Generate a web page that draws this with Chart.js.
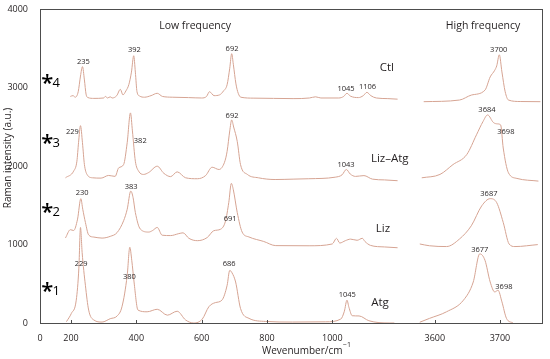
<!DOCTYPE html>
<html lang="en">
<head>
<meta charset="UTF-8">
<title>Raman spectra</title>
<script src="https://cdn.jsdelivr.net/npm/chart.js"></script>
<style>
  html, body { margin: 0; padding: 0; background: #fff; }
</style>
</head>
<body>
<canvas id="raman" width="550" height="359"></canvas>
<script>
// Spectra: wavenumber (cm-1) and intensity (a.u., already offset)
const ctlLowX = [198, 206, 213, 222, 229, 235, 241, 246, 252, 270, 300, 305, 312, 320, 326, 340, 351, 359, 368, 377, 385, 392, 397, 402, 410, 425, 445, 464, 480, 510, 560, 600, 615, 624, 638, 655, 667, 678, 686, 692, 697, 705, 712, 720, 760, 820, 880, 930, 949, 965, 1020, 1035, 1045, 1055, 1080, 1095, 1106, 1118, 1135, 1170, 1200];
const ctlLowY = [2890, 2900, 2880, 2950, 3150, 3270, 3100, 2920, 2875, 2865, 2870, 2890, 2870, 2885, 2870, 2900, 2980, 2910, 2960, 3040, 3200, 3409, 3200, 2950, 2895, 2880, 2900, 2930, 2890, 2880, 2875, 2870, 2890, 2950, 2900, 2910, 2960, 3040, 3250, 3435, 3300, 3050, 2930, 2880, 2868, 2865, 2862, 2870, 2885, 2870, 2870, 2890, 2930, 2895, 2875, 2900, 2942, 2900, 2870, 2862, 2855];

const lizAtgLowX = [183, 208, 218, 223, 229, 235, 241, 249, 266, 292, 315, 335, 346, 361, 372, 382, 388, 397, 407, 422, 438, 464, 484, 505, 525, 551, 587, 612, 632, 653, 670, 678, 686, 692, 698, 709, 719, 740, 774, 825, 880, 928, 1009, 1030, 1043, 1055, 1071, 1097, 1123, 1160, 1200];
const lizAtgLowY = [1852, 1937, 2063, 2300, 2517, 2300, 2021, 1895, 1852, 1848, 1882, 1870, 1979, 2021, 2300, 2680, 2450, 2063, 1937, 1895, 1920, 2000, 1910, 1867, 1928, 1852, 1840, 1880, 1987, 1958, 2050, 2190, 2450, 2590, 2500, 2316, 2021, 1895, 1852, 1830, 1835, 1840, 1860, 1890, 1958, 1900, 1870, 1880, 1835, 1825, 1815];

const lizLowX = [183, 198, 208, 220, 230, 236, 244, 254, 270, 295, 320, 341, 361, 372, 383, 390, 397, 412, 438, 450, 464, 479, 505, 530, 543, 561, 587, 617, 637, 658, 673, 683, 691, 697, 709, 724, 745, 790, 827, 929, 1000, 1013, 1023, 1040, 1056, 1076, 1092, 1100, 1117, 1160, 1200];
const lizLowY = [1085, 1190, 1180, 1325, 1586, 1450, 1283, 1123, 1096, 1083, 1105, 1153, 1304, 1450, 1683, 1600, 1409, 1199, 1160, 1180, 1219, 1120, 1115, 1140, 1150, 1080, 1050, 1090, 1177, 1196, 1300, 1535, 1781, 1700, 1409, 1160, 1097, 1040, 987, 985, 1008, 1080, 1020, 1050, 1070, 1055, 1080, 1040, 990, 970, 960];

const atgLowX = [186, 201, 216, 224, 229, 234, 244, 254, 270, 295, 320, 341, 356, 372, 380, 386, 393, 405, 433, 464, 495, 525, 551, 576, 602, 622, 642, 662, 678, 686, 693, 704, 719, 745, 796, 878, 980, 1026, 1037, 1045, 1051, 1061, 1082, 1112, 1174, 1190];
const atgLowY = [17, 122, 291, 700, 1219, 900, 481, 165, 38, 12, 55, 89, 207, 608, 966, 800, 523, 165, 143, 175, 100, 150, 38, 0, 50, 207, 260, 291, 481, 671, 640, 523, 186, 59, 20, 12, 15, 50, 150, 291, 200, 93, 90, 29, 0, 0];

const ctlHighX = [3583, 3638, 3656, 3677, 3685, 3692, 3695, 3699, 3703, 3708, 3713, 3731, 3762];
const ctlHighY = [2823, 2844, 2907, 2970, 3139, 3224, 3280, 3421, 3202, 2949, 2844, 2825, 2823];

const lizAtgHighX = [3580, 3608, 3628, 3649, 3664, 3674, 3681, 3690, 3696, 3701, 3705, 3713, 3726, 3759];
const lizAtgHighY = [1852, 1895, 2021, 2148, 2401, 2570, 2654, 2557, 2540, 2527, 2232, 1916, 1844, 1810];

const lizHighX = [3577, 3592, 3618, 3638, 3656, 3672, 3685, 3695, 3705, 3714, 3723, 3758];
const lizHighY = [1008, 985, 975, 1072, 1240, 1494, 1586, 1535, 1283, 1008, 975, 1000];

const atgHighX = [3577, 3592, 3618, 3644, 3659, 3669, 3677, 3685, 3692, 3697, 3703, 3710, 3720];
const atgHighY = [10, 59, 143, 291, 523, 882, 800, 523, 396, 418, 270, 59, 0];

// axis ticks
const lowTicks = [200, 400, 600, 800, 1000];
const highTicks = [3600, 3700];
const yTicks = [0, 1000, 2000, 3000, 4000];

// peak labels: text, axis, wavenumber, intensity
const peakLabels = [
  ['235', 'xLow', 238, 3333], ['392', 'xLow', 394, 3485], ['692', 'xLow', 693, 3498],
  ['1045', 'xLow', 1042, 2991], ['1106', 'xLow', 1108, 3008], ['3700', 'xHigh', 3698, 3489],
  ['229', 'xLow', 204, 2433], ['382', 'xLow', 412, 2319], ['692', 'xLow', 693, 2636],
  ['1043', 'xLow', 1042, 2015], ['3684', 'xHigh', 3680, 2716], ['3698', 'xHigh', 3709, 2433],
  ['230', 'xLow', 234, 1660], ['383', 'xLow', 384, 1736], ['691', 'xLow', 687, 1322],
  ['3687', 'xHigh', 3683, 1648],
  ['229', 'xLow', 231, 748], ['380', 'xLow', 379, 587], ['686', 'xLow', 684, 748],
  ['1045', 'xLow', 1046, 355], ['3677', 'xHigh', 3669, 934], ['3698', 'xHigh', 3706, 460]
];
const sampleNames = [['Ctl', 1167, 3257], ['Liz\u2013Atg', 1176, 2095], ['Liz', 1155, 1208], ['Atg', 1146, 253]];
const sampleMarks = [['4', 3115], ['3', 2351], ['2', 1464], ['1', 460]];
const panelTitles = [['Low frequency', 'xLow', 580], ['High frequency', 'xHigh', 3674]];

const lineColor = '#d6a493';
const textColor = '#231f20';
const font = '"Open Sans", sans-serif';

function series(xs, ys, axis) {
  return {
    data: xs.map((x, i) => ({x: x, y: ys[i]})),
    xAxisID: axis,
    yAxisID: 'y',
    borderColor: lineColor,
    borderWidth: 1,
    pointRadius: 0,
    cubicInterpolationMode: 'monotone'
  };
}

const annotate = {
  id: 'annotate',
  afterDraw(chart) {
    const {ctx, chartArea: a, scales} = chart;
    const y = scales.y;
    ctx.save();
    // frame
    ctx.strokeStyle = '#4d4d4d';
    ctx.lineWidth = 1;
    ctx.strokeRect(Math.round(a.left) + 0.5, Math.round(a.top) + 0.5,
      Math.round(a.right - a.left) - 1, Math.round(a.bottom - a.top));
    // inward tick marks on the bottom axis
    ctx.beginPath();
    lowTicks.forEach(v => {
      const px = Math.round(scales.xLow.getPixelForValue(v)) + 0.5;
      ctx.moveTo(px, a.bottom); ctx.lineTo(px, a.bottom - 3);
    });
    highTicks.forEach(v => {
      const px = Math.round(scales.xHigh.getPixelForValue(v)) + 0.5;
      ctx.moveTo(px, a.bottom); ctx.lineTo(px, a.bottom - 3);
    });
    ctx.stroke();

    ctx.fillStyle = textColor;
    ctx.textAlign = 'center';
    ctx.textBaseline = 'middle';
    ctx.font = '7.5px ' + font;
    peakLabels.forEach(([t, ax, xv, yv]) => {
      ctx.fillText(t, scales[ax].getPixelForValue(xv), y.getPixelForValue(yv));
    });
    ctx.font = '11.5px ' + font;
    sampleNames.forEach(([t, xv, yv]) => {
      ctx.fillText(t, scales.xLow.getPixelForValue(xv), y.getPixelForValue(yv));
    });
    ctx.font = '10.5px ' + font;
    panelTitles.forEach(([t, ax, xv]) => {
      ctx.fillText(t, scales[ax].getPixelForValue(xv), y.getPixelForValue(3790));
    });
    // *n markers
    sampleMarks.forEach(([n, yv]) => {
      const cx = scales.xLow.getPixelForValue(127);
      const cy = y.getPixelForValue(yv);
      ctx.textBaseline = 'alphabetic';
      ctx.font = '600 22px ' + font;
      const m = ctx.measureText('*');
      ctx.fillStyle = '#000';
      ctx.fillText('*', cx, cy + (m.actualBoundingBoxAscent - m.actualBoundingBoxDescent) / 2);
      ctx.font = '13px ' + font;
      ctx.textBaseline = 'middle';
      ctx.fillText(n, cx + 9, cy + 4.5);
    });
    // axis titles
    ctx.fillStyle = textColor;
    ctx.font = '10px ' + font;
    ctx.textAlign = 'left';
    ctx.fillText('Wevenumber/cm', 262, 351);
    const w = ctx.measureText('Wevenumber/cm').width;
    ctx.font = '7px ' + font;
    ctx.fillText('\u22121', 262 + w + 0.5, 345);
    ctx.translate(8, 158);
    ctx.rotate(-Math.PI / 2);
    ctx.textAlign = 'center';
    ctx.font = '10px ' + font;
    ctx.fillText('Raman intensity (a.u.)', 0, 0);
    ctx.restore();
  }
};

const tickFont = {family: font, size: 9};
const plain = v => String(v);

new Chart(document.getElementById('raman'), {
  type: 'line',
  data: {
    datasets: [
      series(ctlLowX, ctlLowY, 'xLow'),
      series(lizAtgLowX, lizAtgLowY, 'xLow'),
      series(lizLowX, lizLowY, 'xLow'),
      series(atgLowX, atgLowY, 'xLow'),
      series(ctlHighX, ctlHighY, 'xHigh'),
      series(lizAtgHighX, lizAtgHighY, 'xHigh'),
      series(lizHighX, lizHighY, 'xHigh'),
      series(atgHighX, atgHighY, 'xHigh')
    ]
  },
  options: {
    responsive: false,
    animation: false,
    layout: {padding: {left: 0, top: 7, right: 7, bottom: 0}},
    plugins: {legend: {display: false}, tooltip: {enabled: false}},
    scales: {
      xLow: {
        type: 'linear', position: 'bottom', stack: 'x', stackWeight: 370,
        min: 105, max: 1238,
        grid: {display: false}, border: {display: false},
        afterBuildTicks: s => { s.ticks = [105].concat(lowTicks).map(v => ({value: v})); },
        afterFit: s => { s.height = 36; },
        ticks: {
          padding: 2, color: textColor, font: tickFont, maxRotation: 0,
          callback: v => (v === 105 ? '0' : String(v))
        }
      },
      xHigh: {
        type: 'linear', position: 'bottom', stack: 'x', stackWeight: 133,
        min: 3562, max: 3766,
        grid: {display: false}, border: {display: false},
        afterBuildTicks: s => { s.ticks = highTicks.map(v => ({value: v})); },
        afterFit: s => { s.height = 36; },
        ticks: {padding: 2, color: textColor, font: tickFont, maxRotation: 0, callback: plain}
      },
      y: {
        type: 'linear', min: 0, max: 4000,
        grid: {display: false}, border: {display: false},
        afterBuildTicks: s => { s.ticks = yTicks.map(v => ({value: v})); },
        afterFit: s => { s.width = 40; },
        ticks: {padding: 4, color: textColor, font: tickFont, callback: plain}
      }
    }
  },
  plugins: [annotate]
});
</script>
</body>
</html>
